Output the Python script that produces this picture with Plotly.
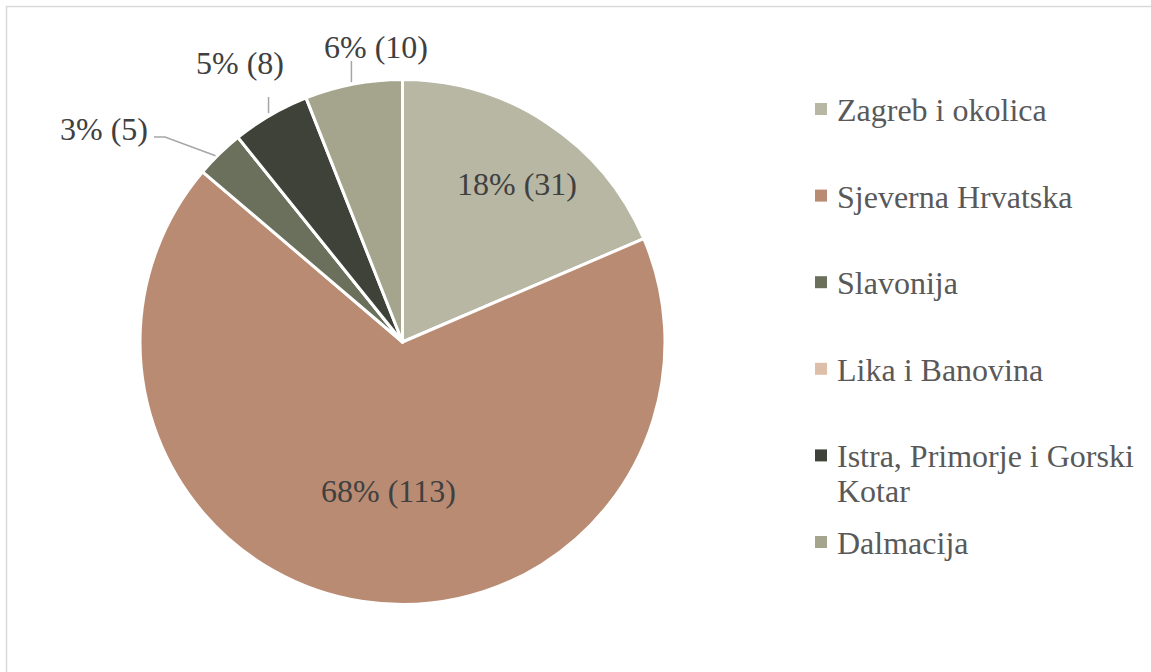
import math
import plotly.graph_objects as go

# ---- data ----
regions = ["Zagreb i okolica", "Sjeverna Hrvatska", "Slavonija", "Lika i Banovina",
           "Istra, Primorje i Gorski Kotar", "Dalmacija"]
legend_labels = ["Zagreb i okolica", "Sjeverna Hrvatska", "Slavonija", "Lika i Banovina",
                 ["Istra, Primorje i Gorski", "Kotar"], "Dalmacija"]
counts = [31, 113, 5, 0, 8, 10]
percent_labels = ["18%", "68%", "3%", "0%", "5%", "6%"]
colors = ["#b7b7a4", "#b98b73", "#6b705c", "#ddbea9", "#3f4238", "#a5a58d"]

W, H = 1151, 672
FONT = "Liberation Serif, Times New Roman, serif"
FS = 32

def px(x):
    return x / W

def py(y):
    return 1 - y / H

# pie geometry (pixels)
CX, CY, R = 402.5, 342.0, 262.5

fig = go.Figure(go.Pie(
    labels=regions,
    values=counts,
    textinfo="none",
    sort=False,
    direction="clockwise",
    rotation=0,
    marker=dict(colors=colors, line=dict(color="white", width=3)),
    domain=dict(x=[px(CX - R), px(CX + R)], y=[py(CY + R), py(CY - R)]),
    showlegend=False,
    hoverinfo="label+value+percent",
))

annotations = []
shapes = []

# data labels: (label centre x, y, leader kind, leader top y)
label_pos = {
    0: (517, 184, None, None),
    1: (389, 491, None, None),
    2: (104, 129, "h", None),
    4: (240, 63, "v", 97),
    5: (376, 47, "v", 61),
}
total = sum(counts)
cum = 0
for i, c in enumerate(counts):
    mid = (cum + c / 2) / total * 2 * math.pi
    cum += c
    if i not in label_pos:
        continue
    ex = CX + R * math.sin(mid)
    ey = CY - R * math.cos(mid)
    lx, ly, kind, ltop = label_pos[i]
    annotations.append(dict(x=px(lx), y=py(ly), xref="paper", yref="paper",
                            text=f"{percent_labels[i]} ({c})", showarrow=False,
                            xanchor="center", yanchor="middle",
                            font=dict(family=FONT, size=FS, color="#404040")))
    if kind == "h":
        path = (f"M {px(lx + 50)} {py(ly + 8)} L {px(lx + 61)} {py(ly + 8)} "
                f"L {px(ex - 4)} {py(ey + 2)}")
    elif kind == "v":
        path = f"M {px(ex - 2)} {py(ltop)} L {px(ex - 2)} {py(ey - 2)}"
    else:
        continue
    shapes.append(dict(type="path", xref="paper", yref="paper", path=path,
                       line=dict(color="#a6a6a6", width=1.5)))

# manual legend
LEG_X, LEG_Y0, LEG_DY, SQ = 815, 110, 86.6, 12
for i, (lab, col) in enumerate(zip(legend_labels, colors)):
    yc = LEG_Y0 + i * LEG_DY
    shapes.append(dict(type="rect", xref="paper", yref="paper",
                       x0=px(LEG_X), x1=px(LEG_X + SQ), y0=py(yc - 1 + SQ / 2), y1=py(yc - 1 - SQ / 2),
                       fillcolor=col, line=dict(width=0)))
    lines = lab if isinstance(lab, list) else [lab]
    for j, ln in enumerate(lines):
        annotations.append(dict(x=px(LEG_X + SQ + 8), y=py(yc + j * 35), xref="paper", yref="paper",
                                text=ln, showarrow=False, xanchor="left", yanchor="middle",
                                font=dict(family=FONT, size=FS, color="#595959")))

# chart border (top and left visible)
shapes.append(dict(type="rect", xref="paper", yref="paper", x0=px(6.5), x1=px(W + 20),
                   y0=py(H + 20), y1=py(6.5), line=dict(color="#d9d9d9", width=1.5),
                   fillcolor="rgba(0,0,0,0)", layer="below"))

fig.update_layout(
    width=W, height=H,
    margin=dict(l=0, r=0, t=0, b=0),
    paper_bgcolor="white", plot_bgcolor="white",
    annotations=annotations, shapes=shapes,
    font=dict(family=FONT, size=FS, color="#404040"),
)

fig.write_html("out.html", config={"displayModeBar": False},
               post_script="document.body.style.margin='0';")
